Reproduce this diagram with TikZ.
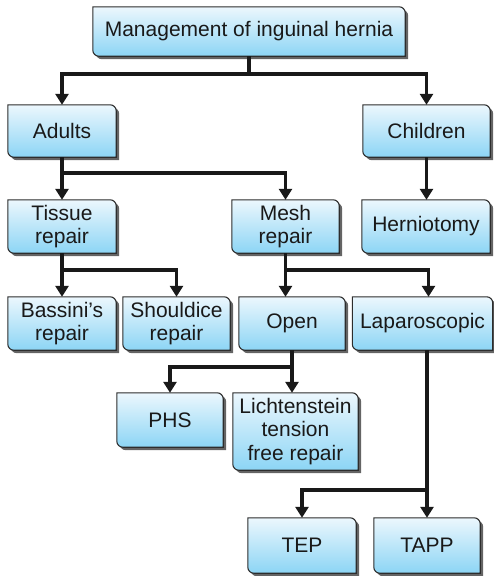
\documentclass[tikz,border=0pt]{standalone}
\usepackage{fontspec}
\setmainfont{Liberation Sans}
\usetikzlibrary{arrows.meta, backgrounds}
\definecolor{hernblue}{RGB}{140, 213, 245}
\definecolor{hernlight}{RGB}{236, 247, 253}
\definecolor{hernline}{RGB}{45, 45, 45}
\definecolor{hernshadow}{RGB}{100, 100, 100}
\definecolor{herntext}{RGB}{25, 25, 25}

% Caja con esquinas redondeadas arriba a la derecha y abajo a la izquierda
\newcommand{\cajapath}[1]{(#1.north west) -- ([xshift=-6pt]#1.north east) arc (90:0:6pt) -- (#1.south east) -- ([xshift=6pt]#1.south west) arc (270:180:6pt) -- cycle}

\tikzset{
  caja/.style={inner sep=2pt, align=center, text=herntext, font=\fontsize{21}{23.5}\selectfont},
  fondo/.style={draw=hernline, line width=1.1pt, top color=hernlight, bottom color=hernblue},
  sombra/.style={fill=hernshadow, transform canvas={xshift=3pt, yshift=-3pt}},
  flecha/.style={line width=3.2pt, draw=herntext, -{Triangle[width=13pt, length=11pt]}}
}

\begin{document}
\begin{tikzpicture}[x=1pt, y=-1pt]

\useasboundingbox (0,0) rectangle (493,576);

% Raíz
\node[caja, minimum width=312pt, minimum height=49pt] (mgmt) at (249,31.5) {Management of inguinal hernia};

% Primer nivel
\node[caja, minimum width=108pt, minimum height=52pt] (adults) at (62,131) {Adults};
\node[caja, minimum width=127pt, minimum height=52pt] (children) at (426.5,131) {Children};

% Segundo nivel
\node[caja, minimum width=108pt, minimum height=53pt] (tissue) at (62,226.5) {Tissue\\repair};
\node[caja, minimum width=107pt, minimum height=53pt] (mesh) at (285.5,226.5) {Mesh\\repair};
\node[caja, minimum width=128pt, minimum height=53pt] (hernio) at (426,226.5) {Herniotomy};

% Tercer nivel
\node[caja, minimum width=108pt, minimum height=53pt] (bassini) at (62,323.5) {Bassini’s\\repair};
\node[caja, minimum width=107pt, minimum height=53pt] (shouldice) at (176.5,323.5) {Shouldice\\repair};
\node[caja, minimum width=106pt, minimum height=53pt] (open) at (292,323.5) {Open};
\node[caja, minimum width=140pt, minimum height=53pt] (lap) at (422.5,323.5) {Laparoscopic};

% Cuarto nivel
\node[caja, minimum width=106pt, minimum height=54pt] (phs) at (170,420) {PHS};
\node[caja, minimum width=125pt, minimum height=77pt] (licht) at (295.5,431.5) {Lichtenstein\\tension\\free repair};
\node[caja, minimum width=108pt, minimum height=55pt] (tep) at (302,545.5) {TEP};
\node[caja, minimum width=106pt, minimum height=55pt] (tapp) at (427,545.5) {TAPP};

% Fondo y sombra de las cajas
\begin{scope}[on background layer]
\foreach \n in {mgmt,adults,children,tissue,mesh,hernio,bassini,shouldice,open,lap,phs,licht,tep,tapp} {
  \path[sombra] \cajapath{\n};
  \path[fondo] \cajapath{\n};
}
\end{scope}

% Puntos de bifurcación
\coordinate (f1) at (249,74);
\coordinate (f2) at (62,173);
\coordinate (f3) at (62,270);
\coordinate (f4) at (285.5,270);
\coordinate (f5) at (292,367);
\coordinate (f6) at (427,490);

% Conectores
\draw[flecha] (mgmt.south) -- (f1) -| (adults.north);
\draw[flecha] (f1) -| (children.north);
\draw[flecha] (adults.south) -- (tissue.north);
\draw[flecha] (f2) -| (mesh.north);
\draw[flecha] (children.south) -- (children.south |- hernio.north);
\draw[flecha] (tissue.south) -- (bassini.north);
\draw[flecha] (f3) -| (shouldice.north);
\draw[flecha] (mesh.south) -- (f4) -- (f4 |- open.north);
\draw[flecha] (f4) -| ([xshift=6pt]lap.north);
\draw[flecha] (open.south) -- (f5) -- (f5 |- licht.north);
\draw[flecha] (f5) -| (phs.north);
\draw[flecha] (lap.south -| tapp.north) -- (tapp.north);
\draw[flecha] (f6) -| (tep.north);

\end{tikzpicture}
\end{document}
